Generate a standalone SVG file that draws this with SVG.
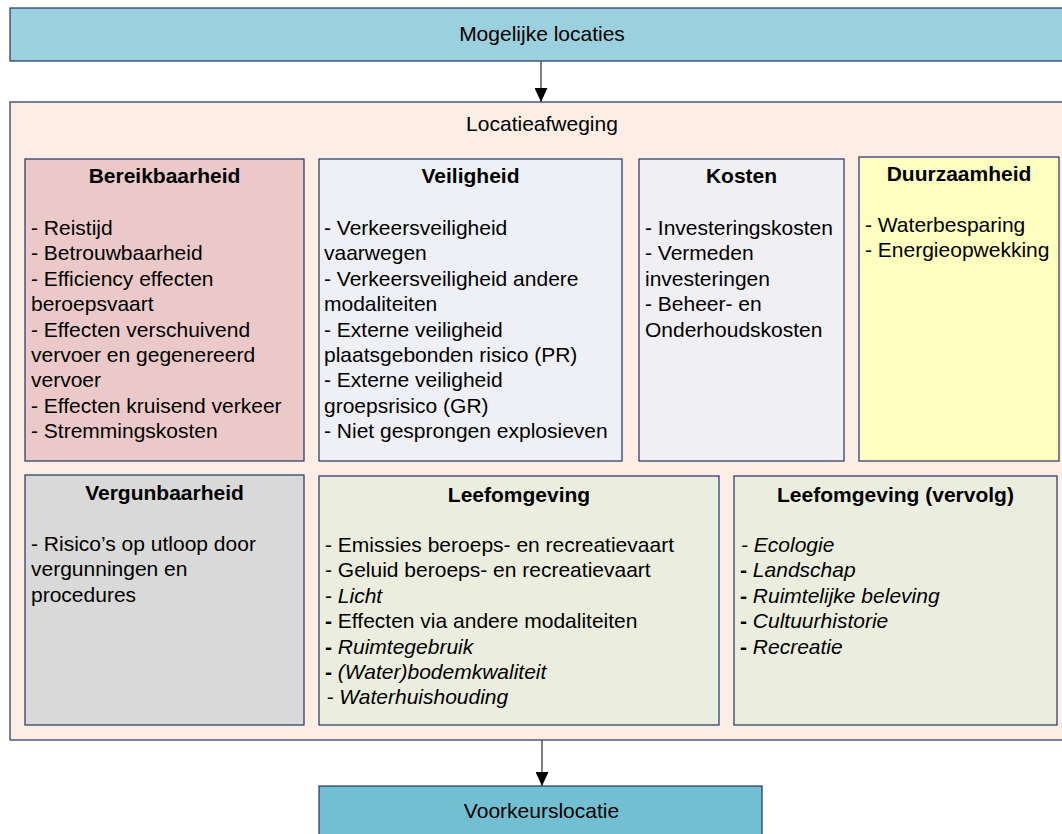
<svg xmlns="http://www.w3.org/2000/svg" width="1062" height="834" viewBox="0 0 1062 834">
<defs>
<style>
text{font-family:"Liberation Sans",Arial,sans-serif;font-size:21px;fill:#000}
.t{font-weight:bold;text-anchor:middle}
.c{text-anchor:middle}
.i{font-style:italic}
.b{font-weight:bold}
.box{stroke:#1F3367;stroke-width:1.2}
.conn{stroke:#555;stroke-width:1.5;fill:none}
</style>
<marker id="ah" markerWidth="14" markerHeight="13" refX="14" refY="6.5" orient="auto" markerUnits="userSpaceOnUse">
<path d="M0,0 L14,6.5 L0,13 Z" fill="#000"/>
</marker>
</defs>
<rect width="1062" height="834" fill="#fff"/>
<g id="mogelijke-locaties">
<rect class="box" x="10" y="8" width="1070" height="53" fill="#9BD1DF" stroke="#4A6A9A"/>
<text class="c" x="542" y="41">Mogelijke locaties</text>
</g>
<g id="locatieafweging">
<rect class="box" x="10" y="102" width="1070" height="638" fill="#FCEEE4"/>
<text class="c" x="542" y="131">Locatieafweging</text>
</g>
<g id="bereikbaarheid">
<rect class="box" x="25" y="159" width="279" height="302" fill="#EBC9C9"/>
<text class="t" x="164.5" y="183">Bereikbaarheid</text>
<text x="31" y="235">- Reistijd</text>
<text x="31" y="260.4">- Betrouwbaarheid</text>
<text x="31" y="285.8">- Efficiency effecten</text>
<text x="31" y="311.2">beroepsvaart</text>
<text x="31" y="336.6">- Effecten verschuivend</text>
<text x="31" y="362">vervoer en gegenereerd</text>
<text x="31" y="387.4">vervoer</text>
<text x="31" y="412.8">- Effecten kruisend verkeer</text>
<text x="31" y="438.2">- Stremmingskosten</text>
</g>
<g id="veiligheid">
<rect class="box" x="319" y="159" width="303" height="302" fill="#EEF0F5"/>
<text class="t" x="470.5" y="183">Veiligheid</text>
<text x="324" y="235">- Verkeersveiligheid</text>
<text x="324" y="260.4">vaarwegen</text>
<text x="324" y="285.8">- Verkeersveiligheid andere</text>
<text x="324" y="311.2">modaliteiten</text>
<text x="324" y="336.6">- Externe veiligheid</text>
<text x="324" y="362">plaatsgebonden risico (PR)</text>
<text x="324" y="387.4">- Externe veiligheid</text>
<text x="324" y="412.8">groepsrisico (GR)</text>
<text x="324" y="438.2">- Niet gesprongen explosieven</text>
</g>
<g id="kosten">
<rect class="box" x="639" y="159" width="205" height="302" fill="#F0EFF4"/>
<text class="t" x="741.5" y="183">Kosten</text>
<text x="645" y="235">- Investeringskosten</text>
<text x="645" y="260.4">- Vermeden</text>
<text x="645" y="285.8">investeringen</text>
<text x="645" y="311.2">- Beheer- en</text>
<text x="645" y="336.6">Onderhoudskosten</text>
</g>
<g id="duurzaamheid">
<rect class="box" x="859" y="157" width="200" height="304" fill="#FFFFC0"/>
<text class="t" x="959" y="181">Duurzaamheid</text>
<text x="865" y="232">- Waterbesparing</text>
<text x="865" y="257.4">- Energieopwekking</text>
</g>
<g id="vergunbaarheid">
<rect class="box" x="25" y="475" width="279" height="250" fill="#D9D9D9"/>
<text class="t" x="164.5" y="500">Vergunbaarheid</text>
<text x="31" y="551">- Risico’s op utloop door</text>
<text x="31" y="576.4">vergunningen en</text>
<text x="31" y="601.8">procedures</text>
</g>
<g id="leefomgeving">
<rect class="box" x="319" y="476" width="400" height="249" fill="#EBEEDF"/>
<text class="t" x="519" y="501.5">Leefomgeving</text>
<text x="325" y="552">- Emissies beroeps- en recreatievaart</text>
<text x="325" y="577.4">- Geluid beroeps- en recreatievaart</text>
<text x="325" y="602.8">- <tspan class="i">Licht</tspan></text>
<text x="325" y="628.2"><tspan class="b">-</tspan> Effecten via andere modaliteiten</text>
<text x="325" y="653.6"><tspan class="b">-</tspan> <tspan class="i">Ruimtegebruik</tspan></text>
<text x="325" y="679"><tspan class="b">-</tspan> <tspan class="i">(Water)bodemkwaliteit</tspan></text>
<text class="i" x="326.5" y="704.4">- Waterhuishouding</text>
</g>
<g id="leefomgeving-vervolg">
<rect class="box" x="734" y="476" width="323" height="249" fill="#EBEEDF"/>
<text class="t" x="895.5" y="501.5">Leefomgeving (vervolg)</text>
<text class="i" x="741" y="552">- Ecologie</text>
<text x="740" y="577.4"><tspan class="b">-</tspan> <tspan class="i">Landschap</tspan></text>
<text x="740" y="602.8"><tspan class="b">-</tspan> <tspan class="i">Ruimtelijke beleving</tspan></text>
<text x="740" y="628.2"><tspan class="b">-</tspan> <tspan class="i">Cultuurhistorie</tspan></text>
<text x="740" y="653.6"><tspan class="b">-</tspan> <tspan class="i">Recreatie</tspan></text>
</g>
<g id="voorkeurslocatie">
<rect class="box" x="319" y="786" width="443" height="60" fill="#72BFD2" stroke="#4A6A9A"/>
<text class="c" x="541.5" y="818">Voorkeurslocatie</text>
</g>
<g id="connectors">
<line class="conn" x1="541" y1="61" x2="541" y2="102" marker-end="url(#ah)"/>
<line class="conn" x1="542" y1="740" x2="542" y2="786" marker-end="url(#ah)"/>
</g>
</svg>
